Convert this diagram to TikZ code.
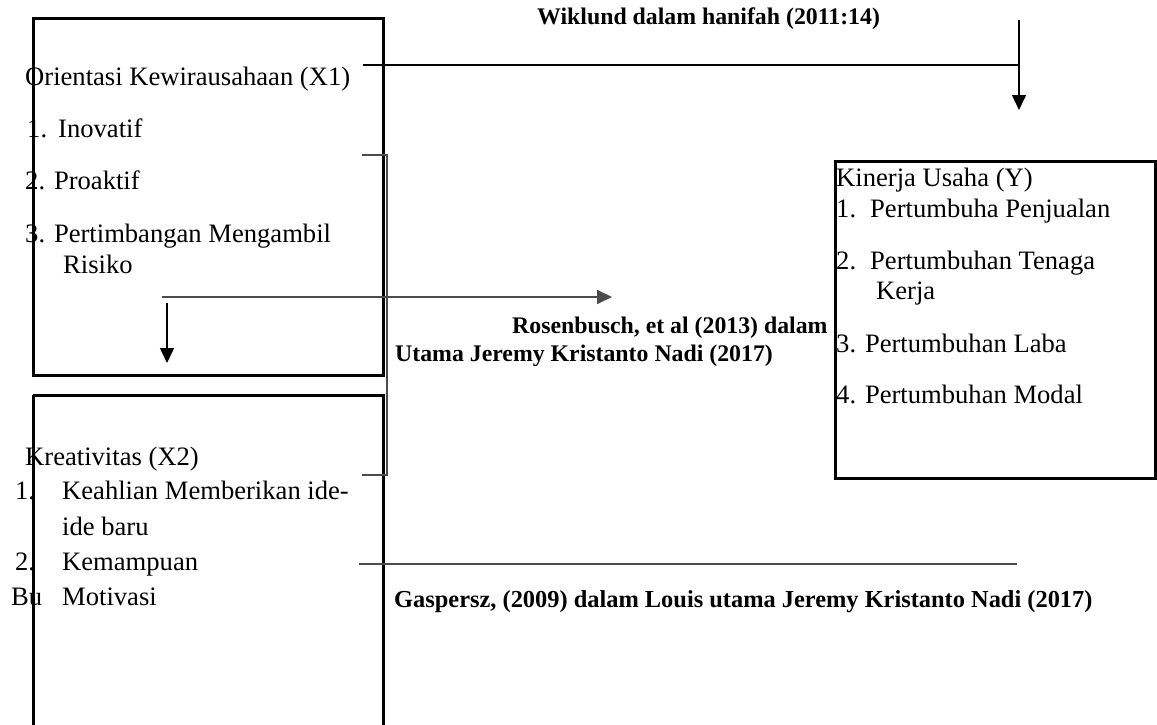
\documentclass[tikz,border=0pt]{standalone}
\usepackage{fontspec}
\setmainfont{Liberation Serif}
\usetikzlibrary{arrows.meta}
\tikzset{
  lbl/.style={anchor=base west, inner sep=0pt, font=\fontsize{26.6}{30}\selectfont},
  ref/.style={anchor=base west, inner sep=0pt, font=\fontsize{23.8}{28}\selectfont\bfseries},
  boxline/.style={draw, line width=3pt, minimum width=#1},
  conn/.style={line width=1.5pt},
  grayconn/.style={line width=1.8pt, draw=black!70},
  tiparrow/.style={-{Triangle[length=15pt,width=14pt]}}
}
\begin{document}
\begin{tikzpicture}[x=1pt,y=-1pt]
\useasboundingbox (0,0) rectangle (1157,725);
\clip (0,0) rectangle (1157,725);
% texts that sit partly under the box borders
\node[lbl] (o1) at (25,85) {Orientasi Kewirausahaan (X1)};
\node[lbl] (o2n) at (27,137) {1.};
\node[lbl] (o2) at (58,137) {Inovatif};
\node[lbl] (o3) at (25,189) {2. Proaktif};
\node[lbl] (o4) at (25,242) {3. Pertimbangan Mengambil};
\node[lbl] (o5) at (63,273) {Risiko};

\node[lbl] (k1) at (25,465) {Kreativitas (X2)};
\node[lbl] (k2n) at (15,499) {1.};
\node[lbl] (k2) at (62,499) {Keahlian Memberikan ide-};
\node[lbl] (k3) at (62,535) {ide baru};
\node[lbl] (k4n) at (15,570) {2.};
\node[lbl] (k4) at (62,570) {Kemampuan};
\node[lbl] (k5n) at (11,605) {Bu};
\node[lbl] (k5) at (62,605) {Motivasi};

\node[lbl] (y1) at (836,186) {Kinerja Usaha (Y)};
\node[lbl] (y2n) at (836,217) {1.};
\node[lbl] (y2) at (870,217) {Pertumbuha Penjualan};
\node[lbl] (y3n) at (836,269) {2.};
\node[lbl] (y3) at (870,269) {Pertumbuhan Tenaga};
\node[lbl] (y4) at (876,299) {Kerja};
\node[lbl] (y5) at (836,352) {3. Pertumbuhan Laba};
\node[lbl] (y6) at (836,403) {4. Pertumbuhan Modal};

% boxes
\draw[line width=3pt] (33,19) rectangle (383,375);
\node (boxX1) at (208,197) {};
\draw[line width=3pt] (33,395) -- (383,395) -- (383,740);
\draw[line width=3pt] (33,395) -- (33,740);
\node (boxX2) at (208,560) {};
\draw[line width=3pt] (835,161) rectangle (1155,478);
\node (boxY) at (995,320) {};

% reference labels
\node[ref] (r1) at (537,25) {Wiklund dalam hanifah (2011:14)};
\node[ref] (r2) at (512,333) {Rosenbusch, et al (2013) dalam};
\node[ref] (r3) at (395,361) {Utama Jeremy Kristanto Nadi (2017)};
\node[ref, font=\fontsize{24.4}{28}\selectfont\bfseries] (r4) at (394,607) {Gaspersz, (2009) dalam Louis utama Jeremy Kristanto Nadi (2017)};

% connector points
\coordinate (a1) at (363,65);
\coordinate (a2) at (1019,65);
\coordinate (a3) at (1019,20);
\coordinate (a4) at (1019,110);
\coordinate (b1) at (362,155);
\coordinate (b2) at (387,155);
\coordinate (b3) at (387,475);
\coordinate (b4) at (362,475);
\coordinate (c1) at (162,297);
\coordinate (c2) at (612,297);
\coordinate (d1) at (167,303);
\coordinate (d2) at (167,363);
\coordinate (e1) at (359,564);
\coordinate (e2) at (1017,564);

% connectors
\draw[conn] (a1) -- (a2);
\draw[conn, tiparrow] (a3) -- (a4);
\draw[grayconn] (b1) -- (b2) -- (b3) -- (b4);
\draw[grayconn, tiparrow] (c1) -- (c2);
\draw[conn, tiparrow] (d1) -- (d2);
\draw[grayconn] (e1) -- (e2);
\end{tikzpicture}
\end{document}
